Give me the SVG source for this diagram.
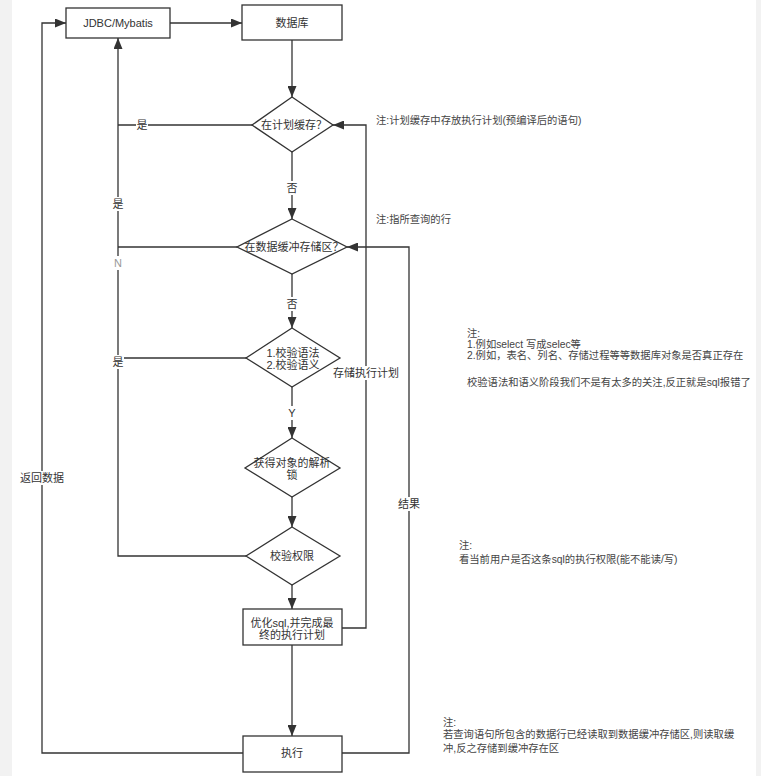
<svg xmlns="http://www.w3.org/2000/svg" width="761" height="776" viewBox="0 0 761 776">
<style>
text{font-family:"Liberation Sans","Noto Sans CJK SC",sans-serif;font-size:11px;fill:#333;}
.c{text-anchor:middle;}
.node{fill:#fff;stroke:#333;stroke-width:1.3;}
.edge{fill:none;stroke:#333;stroke-width:1.3;}
.lbg{fill:#fff;}
.note{fill:#444;font-size:10.3px;}
</style>
<defs>
<marker id="arr" markerUnits="userSpaceOnUse" markerWidth="12" markerHeight="9" refX="11" refY="4.5" orient="auto">
<path d="M0,0 L11,4.5 L0,9 Z" fill="#333"/>
</marker>
</defs>
<rect x="0" y="0" width="761" height="776" fill="#fff"/>
<rect x="0" y="0" width="12" height="776" fill="#f2f2f2"/>
<rect x="756" y="0" width="5" height="776" fill="#f2f2f2"/>

<g id="edges">
<path class="edge" d="M170,23 H242" marker-end="url(#arr)"/>
<path class="edge" d="M292,40 V97" marker-end="url(#arr)"/>
<path class="edge" d="M252,125 H118"/>
<path class="edge" d="M292,152 V219" marker-end="url(#arr)"/>
<path class="edge" d="M237,247 H118"/>
<path class="edge" d="M292,274 V328" marker-end="url(#arr)"/>
<path class="edge" d="M246,358 H118"/>
<path class="edge" d="M292,387 V438" marker-end="url(#arr)"/>
<path class="edge" d="M292,497 V527" marker-end="url(#arr)"/>
<path class="edge" d="M246,556 H118 V38" marker-end="url(#arr)"/>
<path class="edge" d="M292,585 V609" marker-end="url(#arr)"/>
<path class="edge" d="M292,645 V736" marker-end="url(#arr)"/>
<path class="edge" d="M342,628 H366 V125 H333" marker-end="url(#arr)"/>
<path class="edge" d="M243,753 H42 V23 H66" marker-end="url(#arr)"/>
<path class="edge" d="M342,753 H409 V247 H347" marker-end="url(#arr)"/>
<g id="edge-labels">
<rect class="lbg" x="136" y="118" width="12" height="14"/>
<text class="c" x="142" y="129">是</text>
<rect class="lbg" x="286" y="181" width="12" height="14"/>
<text class="c" x="292" y="192">否</text>
<rect class="lbg" x="112" y="197" width="12" height="14"/>
<text class="c" x="118" y="208">是</text>
<rect class="lbg" x="112" y="256" width="12" height="14"/>
<text class="c" x="118" y="267" style="fill:#999">N</text>
<rect class="lbg" x="286" y="297" width="12" height="14"/>
<text class="c" x="292" y="308">否</text>
<rect class="lbg" x="112" y="355" width="12" height="14"/>
<text class="c" x="118" y="366">是</text>
<rect class="lbg" x="286" y="406" width="12" height="14"/>
<text class="c" x="292" y="417">Y</text>
<rect class="lbg" x="333" y="366" width="66" height="14"/>
<text class="c" x="366" y="377">存储执行计划</text>
<rect class="lbg" x="398" y="497" width="22" height="14"/>
<text class="c" x="409" y="508">结果</text>
<rect class="lbg" x="20" y="471" width="44" height="14"/>
<text class="c" x="42" y="482">返回数据</text>
</g>
</g>

<g id="jdbc">
<rect class="node" x="66" y="8" width="104" height="30"/>
<text class="c" x="118" y="27">JDBC/Mybatis</text>
</g>
<g id="db">
<rect class="node" x="242" y="5" width="100" height="35"/>
<text class="c" x="292" y="27">数据库</text>
</g>
<g id="d-plan-cache">
<path class="node" d="M292,97 L333,125 L292,152 L252,125 Z"/>
<text class="c" x="294" y="129">在计划缓存？</text>
</g>
<g id="d-data-buffer">
<path class="node" d="M292,219 L347,247 L292,274 L237,247 Z"/>
<text class="c" x="294" y="251">在数据缓冲存储区？</text>
</g>
<g id="d-syntax">
<path class="node" d="M292,328 L340,358 L292,387 L246,358 Z"/>
<text class="c" x="293" y="357">1.校验语法</text>
<text class="c" x="293" y="369">2.校验语义</text>
</g>
<g id="d-lock">
<path class="node" d="M292,438 L340,468 L292,497 L245,468 Z"/>
<text class="c" x="292" y="467">获得对象的解析</text>
<text class="c" x="292" y="479">锁</text>
</g>
<g id="d-perm">
<path class="node" d="M292,527 L340,556 L292,585 L246,556 Z"/>
<text class="c" x="292" y="560">校验权限</text>
</g>
<g id="optimize">
<rect class="node" x="243" y="609" width="99" height="36"/>
<text class="c" x="292" y="627">优化sql,并完成最</text>
<text class="c" x="292" y="639">终的执行计划</text>
</g>
<g id="exec">
<rect class="node" x="243" y="736" width="99" height="36"/>
<text class="c" x="292" y="757">执行</text>
</g>

<g id="notes">
<text class="note" x="376" y="124">注:计划缓存中存放执行计划(预编译后的语句)</text>
<text class="note" x="376" y="223">注:指所查询的行</text>
<text class="note" x="467" y="337">注:</text>
<text class="note" x="467" y="348">1.例如select 写成selec等</text>
<text class="note" x="467" y="359">2.例如，表名、列名、存储过程等等数据库对象是否真正存在</text>
<text class="note" x="467" y="386">校验语法和语义阶段我们不是有太多的关注,反正就是sql报错了</text>
<text class="note" x="459" y="549">注:</text>
<text class="note" x="459" y="563">看当前用户是否这条sql的执行权限(能不能读/写)</text>
<text class="note" x="443" y="726">注:</text>
<text class="note" x="443" y="738">若查询语句所包含的数据行已经读取到数据缓冲存储区,则读取缓</text>
<text class="note" x="443" y="752">冲,反之存储到缓冲存在区</text>
</g>
</svg>
